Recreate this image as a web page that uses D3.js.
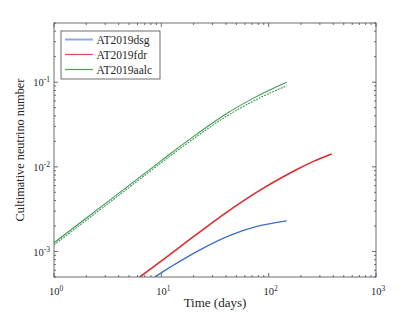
<!DOCTYPE html>
<html><head><meta charset="utf-8">
<script src="https://cdn.jsdelivr.net/npm/d3@7"></script>
<style>body{margin:0;background:#fff}svg{display:block}</style>
</head><body><div id="chart"></div>
<script>
const seriesNames = ["AT2019dsg", "AT2019fdr", "AT2019aalc"];
const seriesColors = ["#3d6fc4", "#dc2b2e", "#3f9a55"];
const legendColors = ["#8aaee0", "#e04a4a", "#4d9d60"];

const dsgDays = [8.7, 12, 21.4, 43.7, 77.6, 147];
const dsgValues = [5e-4, 6.5e-4, 1.0e-3, 1.55e-3, 1.98e-3, 2.3e-3];

const fdrDays = [6.3, 10.4, 21.4, 43.7, 89.3, 183, 261, 387];
const fdrValues = [5e-4, 8.0e-4, 1.6e-3, 3.1e-3, 5.6e-3, 9.3e-3, 0.0116, 0.0142];

const aalcDays = [1, 3, 10, 20, 40, 70, 100, 147];
const aalcUpper = [1.27e-3, 3.68e-3, 0.01185, 0.0229, 0.0421, 0.0635, 0.08, 0.1];
const aalcLower = [1.2e-3, 3.47e-3, 0.0112, 0.0215, 0.0393, 0.0587, 0.0732, 0.0905];

const xTickExps = [0, 1, 2, 3];
const yTickExps = [-3, -2, -1];
const xDomain = [1, 1000];
const yDomain = [5e-4, 0.5];

const FONT = '"Liberation Serif","DejaVu Serif",serif';
const W = 415, H = 312;
const m = {left: 54, right: 39, top: 23, bottom: 35};
const svg = d3.select("#chart").append("svg").attr("width", W).attr("height", H)
  .style("font-family", FONT);
const x = d3.scaleLog().domain(xDomain).range([m.left, W - m.right]);
const y = d3.scaleLog().domain(yDomain).range([H - m.bottom, m.top]);

svg.append("defs").append("clipPath").attr("id", "clip")
  .append("rect").attr("x", m.left).attr("y", m.top)
  .attr("width", W - m.left - m.right).attr("height", H - m.top - m.bottom);

const axisColor = "#4a4a4a";
const textColor = "#262626";
const xMinor = [], yMinor = [];
for (let e = 0; e < 3; e++) for (let k = 2; k <= 9; k++) xMinor.push(k * Math.pow(10, e));
for (let k = 5; k <= 9; k++) yMinor.push(k * 1e-4);
for (let e = -3; e < -1; e++) for (let k = 2; k <= 9; k++) yMinor.push(k * Math.pow(10, e));
for (let k = 2; k <= 5; k++) yMinor.push(k * 0.1);

const g = svg.append("g").attr("stroke", axisColor).attr("stroke-width", 0.8);
const y0 = H - m.bottom, y1 = m.top, x0 = m.left, x1 = W - m.right;
xTickExps.forEach(e => {
  const px = x(Math.pow(10, e));
  g.append("line").attr("x1", px).attr("x2", px).attr("y1", y0).attr("y2", y0 - 4);
  g.append("line").attr("x1", px).attr("x2", px).attr("y1", y1).attr("y2", y1 + 4);
});
xMinor.forEach(v => {
  const px = x(v);
  g.append("line").attr("x1", px).attr("x2", px).attr("y1", y0).attr("y2", y0 - 2);
  g.append("line").attr("x1", px).attr("x2", px).attr("y1", y1).attr("y2", y1 + 2);
});
yTickExps.forEach(e => {
  const py = y(Math.pow(10, e));
  g.append("line").attr("y1", py).attr("y2", py).attr("x1", x0).attr("x2", x0 + 4);
  g.append("line").attr("y1", py).attr("y2", py).attr("x1", x1).attr("x2", x1 - 4);
});
yMinor.forEach(v => {
  const py = y(v);
  g.append("line").attr("y1", py).attr("y2", py).attr("x1", x0).attr("x2", x0 + 2);
  g.append("line").attr("y1", py).attr("y2", py).attr("x1", x1).attr("x2", x1 - 2);
});

xTickExps.forEach(e => {
  const t = svg.append("text").attr("x", x(Math.pow(10, e)) + 2).attr("y", 295)
    .attr("text-anchor", "middle").attr("font-size", 10.5).attr("fill", textColor);
  t.append("tspan").text("10");
  t.append("tspan").attr("dy", -4).attr("font-size", 7.5).text(e);
});
yTickExps.forEach(e => {
  const t = svg.append("text").attr("x", 50).attr("y", y(Math.pow(10, e)) + 4)
    .attr("text-anchor", "end").attr("font-size", 10.5).attr("fill", textColor);
  t.append("tspan").text("10");
  t.append("tspan").attr("dy", -4).attr("font-size", 7.5).text("-" + Math.abs(e));
});

svg.append("text").attr("x", 215).attr("y", 307).attr("text-anchor", "middle")
  .attr("font-size", 13).attr("fill", textColor).text("Time (days)");
svg.append("text").attr("transform", "translate(24,150) rotate(-90)").attr("text-anchor", "middle")
  .attr("font-size", 12.3).attr("fill", textColor).text("Cultimative neutrino number");

const line = d3.line().x(d => x(d[0])).y(d => y(d[1])).curve(d3.curveCatmullRom.alpha(0.5));
const plot = svg.append("g").attr("clip-path", "url(#clip)").attr("fill", "none");
plot.append("path").datum(d3.zip(aalcDays, aalcLower)).attr("d", line)
  .attr("stroke", seriesColors[2]).attr("stroke-width", 1.1).attr("stroke-dasharray", "2,1");
plot.append("path").datum(d3.zip(aalcDays, aalcUpper)).attr("d", line)
  .attr("stroke", seriesColors[2]).attr("stroke-width", 1.1);
plot.append("path").datum(d3.zip(fdrDays, fdrValues)).attr("d", line)
  .attr("stroke", seriesColors[1]).attr("stroke-width", 1.6);
plot.append("path").datum(d3.zip(dsgDays, dsgValues)).attr("d", line)
  .attr("stroke", seriesColors[0]).attr("stroke-width", 1.4);

svg.append("rect").attr("x", x0).attr("y", y1).attr("width", x1 - x0).attr("height", y0 - y1)
  .attr("fill", "none").attr("stroke", axisColor).attr("stroke-width", 0.8);

const lg = svg.append("g");
lg.append("rect").attr("x", 61).attr("y", 31).attr("width", 99).attr("height", 48)
  .attr("fill", "#fff").attr("stroke", "#4a4a4a").attr("stroke-width", 0.8);
const rowY = [39.5, 54.5, 69.5];
seriesNames.forEach((n, i) => {
  lg.append("line").attr("x1", 65).attr("x2", 93).attr("y1", rowY[i]).attr("y2", rowY[i])
    .attr("stroke", legendColors[i]).attr("stroke-width", i === 0 ? 2 : 1.2);
  lg.append("text").attr("x", 96.5).attr("y", rowY[i] + 4).attr("font-size", 11.5)
    .attr("fill", textColor).text(n);
});
</script></body></html>
